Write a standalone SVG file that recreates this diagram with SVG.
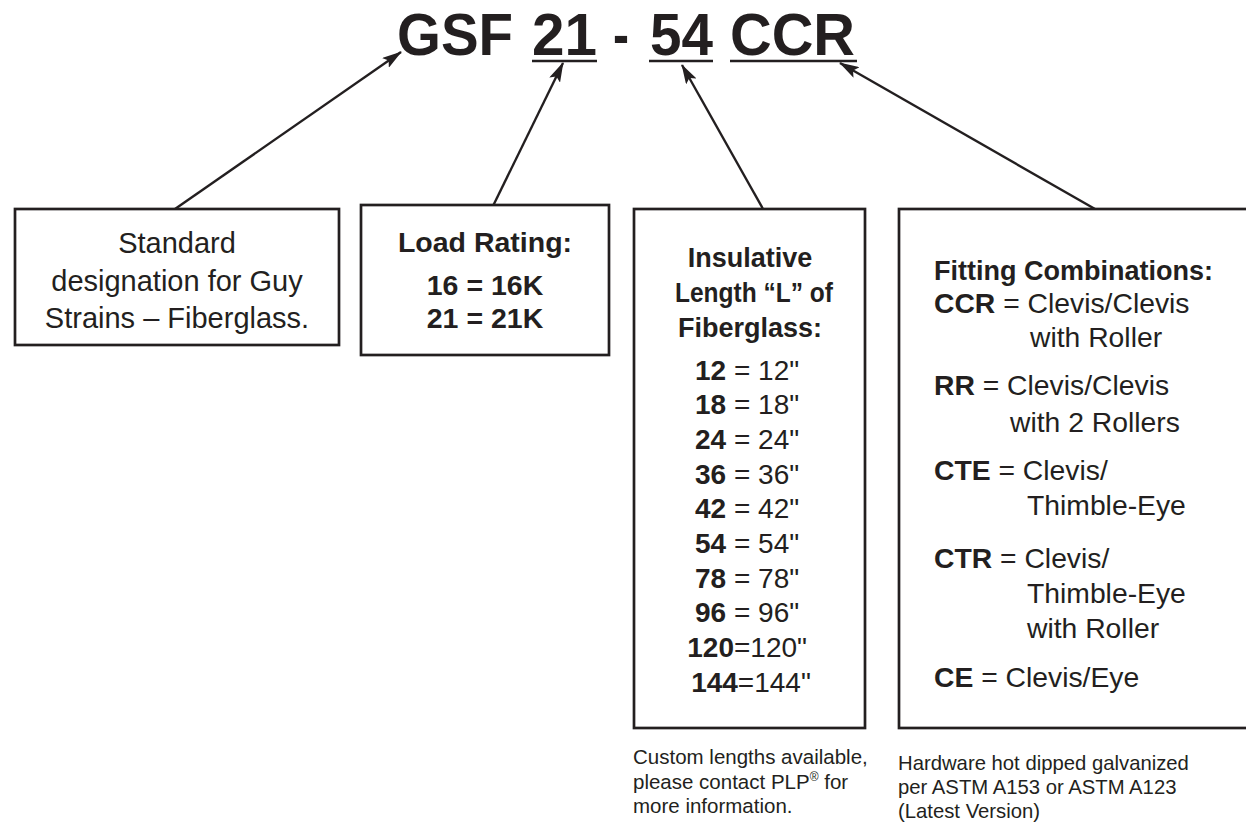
<svg xmlns="http://www.w3.org/2000/svg" width="1246" height="824" viewBox="0 0 1246 824">
<defs>
<style>
.box{fill:#fff;stroke:#231f20;stroke-width:2.7}
.t{font-family:"Liberation Sans",Arial,sans-serif;fill:#231f20}
.b{font-weight:bold}
.title{font-family:"Liberation Sans",Arial,sans-serif;font-weight:bold;font-size:60px;fill:#231f20}
.ul{stroke:#231f20;stroke-width:2.7}
.conn{stroke:#231f20;stroke-width:2.4;fill:none;marker-end:url(#ah)}
</style>
<marker id="ah" markerWidth="20" markerHeight="12" refX="19" refY="6" orient="auto" markerUnits="userSpaceOnUse" viewBox="0 0 20 12">
<path d="M0,0 L20,6 L0,12 L4,6 Z" fill="#231f20"/>
</marker>
</defs>
<rect width="1246" height="824" fill="#fff"/>
<g id="title">
<text class="title" x="397" y="55" textLength="116" lengthAdjust="spacingAndGlyphs">GSF</text>
<text class="title" x="532" y="55" textLength="65" lengthAdjust="spacingAndGlyphs">21</text>
<text class="title" x="613" y="55" textLength="16" lengthAdjust="spacingAndGlyphs">-</text>
<text class="title" x="650" y="55" textLength="63" lengthAdjust="spacingAndGlyphs">54</text>
<text class="title" x="730" y="55" textLength="125" lengthAdjust="spacingAndGlyphs">CCR</text>
<line class="ul" x1="532" y1="61" x2="597" y2="61"/>
<line class="ul" x1="649" y1="61" x2="713" y2="61"/>
<line class="ul" x1="730" y1="61" x2="857" y2="61"/>
</g>
<g id="connectors">
<line class="conn" x1="175" y1="209" x2="401" y2="52"/>
<line class="conn" x1="493" y1="206" x2="563" y2="63"/>
<line class="conn" x1="763" y1="209" x2="682" y2="65"/>
<line class="conn" x1="1095" y1="209" x2="840" y2="63"/>
</g>
<g id="node-standard">
<rect class="box" x="15" y="209" width="324" height="136"/>
<text class="t" font-size="29" text-anchor="middle"><tspan x="177" y="253">Standard</tspan><tspan x="177" y="291">designation for Guy</tspan><tspan x="177" y="328">Strains – Fiberglass.</tspan></text>
</g>
<g id="node-load">
<rect class="box" x="361" y="205" width="248" height="150"/>
<text class="t b" font-size="28.5" text-anchor="middle"><tspan x="485" y="252">Load Rating:</tspan><tspan x="485" y="295">16 = 16K</tspan><tspan x="485" y="328">21 = 21K</tspan></text>
</g>
<g id="node-length">
<rect class="box" x="634" y="209" width="231" height="519"/>
<text class="t b" font-size="27" text-anchor="middle"><tspan x="750" y="267">Insulative</tspan><tspan x="754" y="302" textLength="158" lengthAdjust="spacingAndGlyphs">Length “L” of</tspan><tspan x="750" y="337">Fiberglass:</tspan></text>
<text class="t" font-size="28" text-anchor="middle">
<tspan x="751" y="380"><tspan class="b">12</tspan> = 12"</tspan>
<tspan x="751" y="414"><tspan class="b">18</tspan> = 18"</tspan>
<tspan x="751" y="449"><tspan class="b">24</tspan> = 24"</tspan>
<tspan x="751" y="484"><tspan class="b">36</tspan> = 36"</tspan>
<tspan x="751" y="518"><tspan class="b">42</tspan> = 42"</tspan>
<tspan x="751" y="553"><tspan class="b">54</tspan> = 54"</tspan>
<tspan x="751" y="588"><tspan class="b">78</tspan> = 78"</tspan>
<tspan x="751" y="622"><tspan class="b">96</tspan> = 96"</tspan>
<tspan x="751" y="657"><tspan class="b">120</tspan>=120"</tspan>
<tspan x="751" y="692"><tspan class="b">144</tspan>=144"</tspan>
</text>
</g>
<g id="node-fitting">
<rect class="box" x="899" y="209" width="360" height="519"/>
<text class="t b" font-size="27" x="934" y="280">Fitting Combinations:</text>
<text class="t" font-size="28.3">
<tspan x="934" y="313"><tspan class="b">CCR</tspan> = Clevis/Clevis</tspan>
<tspan x="1030" y="347">with Roller</tspan>
<tspan x="934" y="395"><tspan class="b">RR</tspan> = Clevis/Clevis</tspan>
<tspan x="1010" y="432">with 2 Rollers</tspan>
<tspan x="934" y="480"><tspan class="b">CTE</tspan> = Clevis/</tspan>
<tspan x="1027" y="515">Thimble-Eye</tspan>
<tspan x="934" y="568"><tspan class="b">CTR</tspan> = Clevis/</tspan>
<tspan x="1027" y="603">Thimble-Eye</tspan>
<tspan x="1027" y="638">with Roller</tspan>
<tspan x="934" y="687"><tspan class="b">CE</tspan> = Clevis/Eye</tspan>
</text>
</g>
<g id="note-custom">
<text class="t" font-size="20.5"><tspan x="633" y="764">Custom lengths available,</tspan><tspan x="633" y="789">please contact PLP<tspan font-size="12" dy="-8">®</tspan><tspan dy="8"> for</tspan></tspan><tspan x="633" y="813">more information.</tspan></text>
</g>
<g id="note-hardware">
<text class="t" font-size="20.3"><tspan x="898" y="770">Hardware hot dipped galvanized</tspan><tspan x="898" y="794">per ASTM A153 or ASTM A123</tspan><tspan x="898" y="818">(Latest Version)</tspan></text>
</g>
</svg>
